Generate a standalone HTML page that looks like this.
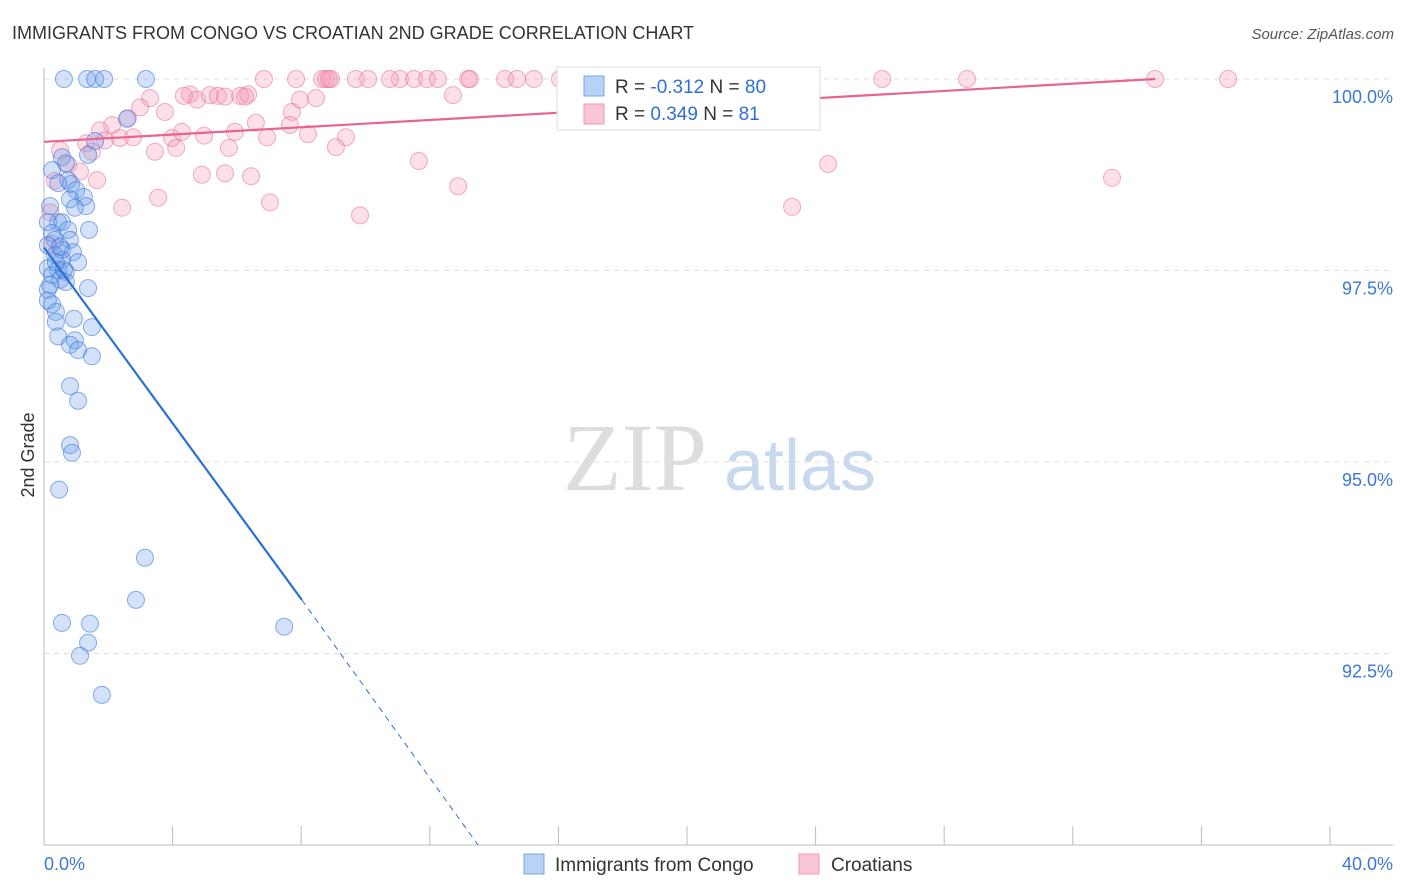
<!DOCTYPE html>
<html><head><meta charset="utf-8"><style>
body{margin:0;background:#fff;font-family:"Liberation Sans",sans-serif}
svg{display:block}
</style></head><body>
<svg id="c" width="1406" height="892" xmlns="http://www.w3.org/2000/svg">
<text x="12" y="39" font-size="18" fill="#333">IMMIGRANTS FROM CONGO VS CROATIAN 2ND GRADE CORRELATION CHART</text>
<text x="1394" y="39" font-size="15" fill="#555" font-style="italic" text-anchor="end">Source: ZipAtlas.com</text>
<text x="34" y="455" font-size="18" fill="#333" text-anchor="middle" transform="rotate(-90 34 455)">2nd Grade</text>
<g><text x="635" y="490" font-size="96" fill="#ddd" font-family="Liberation Serif,serif" text-anchor="middle">ZIP</text><text x="800" y="490" font-size="72" fill="#c8d8ee" text-anchor="middle">atlas</text></g>
<g id="grid"></g><g id="axes"></g><g id="marks"></g>
<g>
<rect x="557" y="67" width="263" height="63" fill="#fff" stroke="#ddd"/>
<rect x="584" y="76" width="20" height="20" fill="#b8d2f5" stroke="#7aa7e8"/>
<rect x="584" y="104" width="20" height="20" fill="#f8c6d5" stroke="#ee9ab4"/>
<text x="615" y="93" font-size="19" fill="#333">R = <tspan fill="#2f6fd8">-0.312</tspan>   N = <tspan fill="#2f6fd8">80</tspan></text>
<text x="615" y="120" font-size="19" fill="#333">R =  <tspan fill="#2f6fd8">0.349</tspan>   N =  <tspan fill="#2f6fd8">81</tspan></text>
</g>
<g>
<rect x="524" y="854" width="20" height="20" fill="#b8d2f5" stroke="#7aa7e8"/>
<text x="555" y="871" font-size="19" fill="#333">Immigrants from Congo</text>
<rect x="799" y="854" width="20" height="20" fill="#f8c6d5" stroke="#ee9ab4"/>
<text x="831" y="871" font-size="19" fill="#333">Croatians</text>
</g>
</svg>
<script>
const congoX=[0.62,1.34,1.59,1.87,3.17,2.58,1.59,1.37,0.56,0.68,0.25,0.75,0.84,0.44,1.0,1.24,0.81,1.31,0.96,0.19,0.44,0.56,0.12,1.4,0.75,0.25,0.34,0.81,0.12,0.56,0.9,0.34,0.56,1.06,0.12,0.44,0.68,0.25,0.5,0.68,1.37,0.12,0.25,0.37,0.37,0.93,1.49,0.44,0.96,0.81,1.06,1.49,0.81,1.06,0.81,0.87,0.47,3.14,2.86,0.56,1.43,1.37,1.12,7.47,1.8,0.12,0.19,0.62,0.37,0.5];
const congoY=[100,100,100,100,100,99.48,99.19,99.01,98.98,98.9,98.81,98.68,98.63,98.64,98.55,98.46,98.43,98.34,98.32,98.34,98.13,98.13,98.13,98.03,98.03,97.99,97.9,97.9,97.83,97.77,97.74,97.7,97.64,97.61,97.53,97.51,97.48,97.44,97.38,97.35,97.27,97.25,97.06,96.96,96.83,96.87,96.76,96.64,96.59,96.53,96.46,96.38,95.99,95.8,95.22,95.12,94.64,93.75,93.2,92.9,92.89,92.64,92.47,92.85,91.96,97.11,97.31,97.51,97.61,97.81];
const croatX=[4.54,4.76,5.16,5.41,5.63,6.1,6.35,6.84,7.84,8.65,8.77,8.93,9.7,10.08,11.07,11.51,11.91,12.25,13.19,14.34,14.71,15.24,16.83,17.29,22.43,26.07,28.71,34.56,36.83,12.72,8.46,7.71,3.3,2.99,3.76,2.61,2.12,1.74,1.31,2.36,2.77,3.98,4.29,4.11,3.45,4.98,5.94,6.59,7.65,6.94,8.21,9.39,9.08,5.75,1.65,2.43,3.55,4.91,5.63,6.44,7.03,9.83,11.66,12.88,23.27,24.39,33.22,0.75,0.34,1.12,0.5,1.49,1.9,0.19,0.25,7.96,8.86,6.25,4.35,16.05,13.25,10.76];
const croatY=[99.8,99.73,99.79,99.78,99.77,99.78,99.8,100,100,100,100,100,100,100,100,100,100,100,100,100,100,100,100,100,100,100,100,100,100,99.79,99.75,99.57,99.75,99.63,99.57,99.49,99.4,99.33,99.16,99.23,99.24,99.23,99.31,99.1,99.05,99.26,99.31,99.43,99.4,99.24,99.28,99.24,99.11,99.1,98.68,98.32,98.45,98.75,98.77,98.73,98.39,98.22,98.93,98.6,98.33,98.89,98.71,98.88,98.67,98.79,99.07,99.05,99.2,98.26,97.85,99.73,100,99.77,99.78,100,100,100];
const yTicks=[100,97.5,95,92.5];
const yTickLabels=["100.0%","97.5%","95.0%","92.5%"];
const xTicks=[0,4,8,12,16,20,24,28,32,36,40];
const xTickLabels=["0.0%","40.0%"];
const congoTrend=[[0,97.8],[8.02,93.2],[13.5,90]];
const croatTrend=[[0,99.18],[34.56,100]];
const X=v=>44+v*32.15, Y=v=>79+(100-v)*76.6;
const NS="http://www.w3.org/2000/svg";
function mk(t,a,p){const e=document.createElementNS(NS,t);for(const k in a)e.setAttribute(k,a[k]);p.appendChild(e);return e;}
const grid=document.getElementById('grid'),axes=document.getElementById('axes'),marks=document.getElementById('marks');
yTicks.forEach((v,i)=>{
 const l=mk('line',{x1:44,x2:1393,y1:Y(v),y2:Y(v),stroke:'#ddd','stroke-dasharray':'5,5'},grid);
 
 
 const t=mk('text',{x:1393,y:Y(v)+24,'font-size':18,fill:'#3a78d8','text-anchor':'end'},axes);
 t.textContent=yTickLabels[i];
 
 
});
const ax=mk('line',{x1:44,x2:44,y1:68,y2:845,stroke:'#bbb'},axes);


const bx=mk('line',{x1:44,x2:1393,y1:845,y2:845,stroke:'#bbb'},axes);


xTicks.forEach(v=>{
 const l=mk('line',{x1:X(v),x2:X(v),y1:826,y2:845,stroke:'#bbb'},axes);
 
 
});
[[0,'start',44],[40,'end',1393]].forEach((d,i)=>{
 const t=mk('text',{x:d[2],y:870,'font-size':18,fill:'#3a78d8','text-anchor':d[1]},axes);
 t.textContent=xTickLabels[i];
 
 
});
croatX.forEach((v,i)=>{
 const c=mk('circle',{cx:X(v),cy:Y(croatY[i]),r:8.5,fill:'rgba(244,150,180,0.3)',stroke:'rgba(232,110,150,0.55)'},marks);
 
 
});
congoX.forEach((v,i)=>{
 const c=mk('circle',{cx:X(v),cy:Y(congoY[i]),r:8.5,fill:'rgba(110,160,235,0.3)',stroke:'rgba(50,110,215,0.55)'},marks);
 
 
});
const t1=mk('line',{x1:X(congoTrend[0][0]),y1:Y(congoTrend[0][1]),x2:X(congoTrend[1][0]),y2:Y(congoTrend[1][1]),stroke:'#2a6fd6','stroke-width':2.2},marks);


const t2=mk('line',{x1:X(congoTrend[1][0]),y1:Y(congoTrend[1][1]),x2:X(congoTrend[2][0]),y2:Y(congoTrend[2][1]),stroke:'#2a6fd6','stroke-width':1,'stroke-dasharray':'6,5'},marks);


const t3=mk('line',{x1:X(croatTrend[0][0]),y1:Y(croatTrend[0][1]),x2:X(croatTrend[1][0]),y2:Y(croatTrend[1][1]),stroke:'#e8648e','stroke-width':2.2},marks);


</script>
</body></html>
